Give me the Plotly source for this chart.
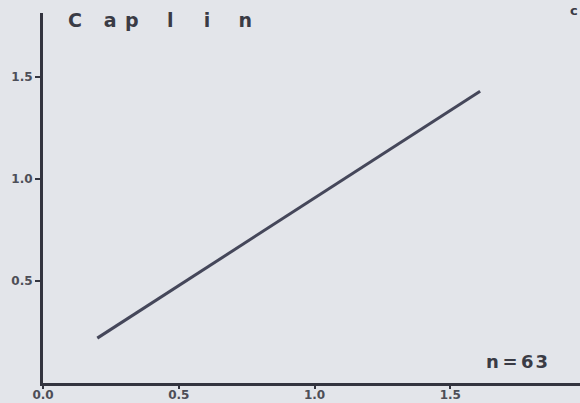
import plotly.graph_objects as go

# Regression line endpoints (x, y)
line_x = [0.20, 1.61]
line_y = [0.22, 1.43]

x_ticks = [0.0, 0.5, 1.0, 1.5]
x_tick_text = ["0.0", "0.5", "1.0", "1.5"]
y_ticks = [0.5, 1.0, 1.5]
y_tick_text = ["0.5", "1.0", "1.5"]

NB, THIN, HAIR = "\u00a0", "\u2009", "\u200a"
title_text = ("C" + NB * 3 + HAIR + "a" + NB + HAIR + "p" + NB * 4 + HAIR
              + "l" + NB * 4 + THIN + "i" + NB * 4 + HAIR + "n")
n_text = "n\u2009=\u20096\u200a3"

BG = "#e3e5ea"
INK = "#33343f"
LABEL = "#4d4e57"

fig = go.Figure()
fig.add_trace(go.Scatter(
    x=line_x, y=line_y, mode="lines",
    line=dict(color="#45475a", width=3),
    hoverinfo="skip", showlegend=False,
))

W, H = 580, 403
ml, mb, mt, mr = 43, 20, 13, 0
px_per_x = 271.5
px_per_y = 204.0

fig.update_layout(
    width=W, height=H,
    margin=dict(l=ml, r=mr, t=mt, b=mb, pad=0),
    paper_bgcolor=BG, plot_bgcolor=BG,
    showlegend=False,
    font=dict(family="DejaVu Sans", color=LABEL),
    xaxis=dict(
        range=[0, (W - ml - mr) / px_per_x],
        tickmode="array", tickvals=x_ticks, ticktext=x_tick_text,
        ticks="outside", ticklen=3, tickwidth=2, tickcolor=INK,
        ticklabelstandoff=-4,
        tickfont=dict(family="DejaVu Sans", size=12, color=LABEL, weight="bold"),
        showline=True, linecolor=INK, linewidth=3,
        showgrid=False, zeroline=False, automargin=False,
    ),
    yaxis=dict(
        range=[0, (H - mt - mb) / px_per_y],
        tickmode="array", tickvals=y_ticks, ticktext=y_tick_text,
        ticks="outside", ticklen=5, tickwidth=2, tickcolor=INK,
        tickfont=dict(family="DejaVu Sans", size=12, color=LABEL, weight="bold"),
        showline=True, linecolor=INK, linewidth=3,
        showgrid=False, zeroline=False, automargin=False,
    ),
)

fig.add_annotation(
    text=title_text, xref="paper", yref="paper",
    x=(66 - ml) / (W - ml - mr), y=1 + (mt - 7) / (H - mt - mb),
    xanchor="left", yanchor="top", showarrow=False,
    font=dict(family="DejaVu Sans", size=19, color="#3a3b45", weight="bold"),
)
fig.add_annotation(
    text=n_text, xref="paper", yref="paper",
    x=(550 - ml) / (W - ml - mr), y=(383 - 349) / (H - mt - mb),
    xanchor="right", yanchor="top", showarrow=False,
    font=dict(family="DejaVu Sans", size=18, color="#3a3b45", weight="bold"),
)
# heading of the neighbouring panel, at the top-right corner
fig.add_annotation(
    text="c", xref="paper", yref="paper",
    x=1, y=1 + (mt - 1) / (H - mt - mb),
    xanchor="right", yanchor="top", showarrow=False,
    font=dict(family="DejaVu Sans", size=13, color="#3a3b45", weight="bold"),
)

fig.write_html("out.html")
